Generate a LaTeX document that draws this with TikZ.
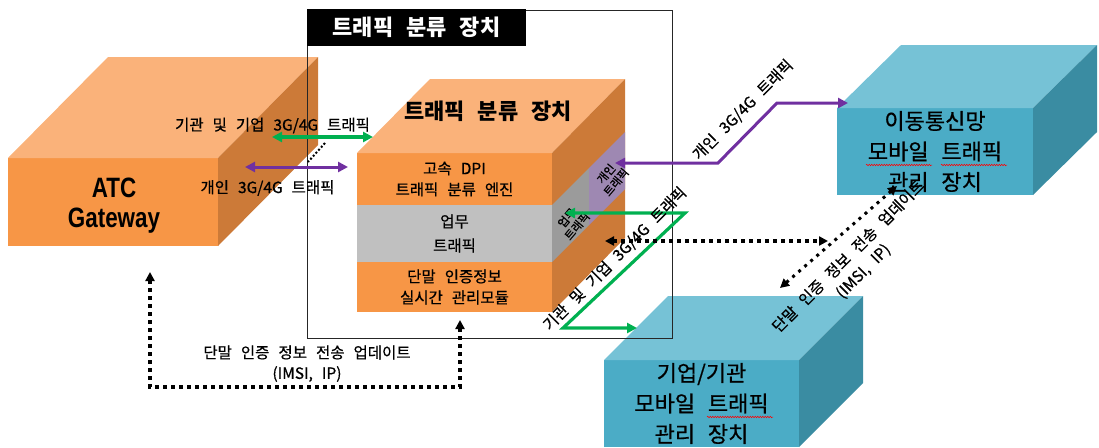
\documentclass[tikz,border=0pt]{standalone}
\usepackage{fontspec}
\newfontfamily\kr[WordSpace=2.6,FakeBold=0.6]{Noto Sans CJK KR}
\newfontfamily\krb[WordSpace=2.6]{Noto Sans CJK KR}
\newfontfamily\lsans{Liberation Sans}
\usetikzlibrary{arrows.meta,decorations.pathmorphing}
\definecolor{orFront}{RGB}{247,150,70}
\definecolor{orTop}{RGB}{250,178,122}
\definecolor{orSide}{RGB}{204,122,56}
\definecolor{grFront}{RGB}{192,192,192}
\definecolor{grSide}{RGB}{155,155,155}
\definecolor{puSide}{RGB}{158,136,178}
\definecolor{blFront}{RGB}{75,172,198}
\definecolor{blTop}{RGB}{118,194,214}
\definecolor{blSide}{RGB}{58,140,162}
\definecolor{purp}{RGB}{112,48,160}
\definecolor{grn}{RGB}{0,176,80}
\newcommand\fsz[2]{\fontsize{#1}{#2}\selectfont}
\tikzset{
  face/.style={inner sep=0pt, outer sep=0pt},
  lbl/.style={font=\kr\fsz{15.5}{21}, inner sep=0pt, align=center},
  frontlbl/.style={font=\kr\fsz{15.5}{21}, align=center},
  bluelbl/.style={font=\kr\fsz{22}{30.5}, align=center},
  sidelbl/.style={font=\kr\fsz{11.5}{13}, align=center, rotate=50, inner sep=0pt},
  atcfont/.style={font=\lsans\bfseries\fsz{28}{28}, anchor=base, inner sep=0pt},
  garrow/.style={draw=grn, line width=3.2pt, {Triangle[length=10pt,width=10pt]}-{Triangle[length=10pt,width=10pt]}},
  parrow/.style={draw=purp, line width=3pt, {Triangle[length=10pt,width=10pt]}-{Triangle[length=10pt,width=10pt]}},
  dotbig/.style={draw=black, line width=3.5pt, dash pattern=on 4pt off 4pt, {Triangle[length=9pt,width=9pt]}-{Triangle[length=9pt,width=9pt]}},
  dotsmall/.style={draw=black, line width=3pt, dash pattern=on 3pt off 5pt, {Triangle[length=9pt,width=9pt]}-{Triangle[length=9pt,width=9pt]}},
  dottiny/.style={draw=black, line width=2pt, dash pattern=on 2pt off 2pt},
  squig/.style={draw=red, line width=0.5pt, decorate, decoration={snake, amplitude=0.8pt, segment length=2.5pt}}
}
\begin{document}
\begin{tikzpicture}[x=1pt,y=-1pt]
\useasboundingbox (0,0) rectangle (1099,447);

% ATC Gateway box
\node[face, fill=orFront, minimum width=210pt, minimum height=88pt] (atc) at (113,202) {};
\fill[orTop] (atc.north west) -- (atc.north east) -- ++(100,-101) -- ++(-210,0) -- cycle;
\fill[orSide] (atc.north east) -- ++(100,-101) -- ++(0,88) -- (atc.south east) -- cycle;
\node[atcfont] (atcA) at (114,197) {\scalebox{0.8}[1]{ATC}};
\node[atcfont] (atcB) at (114,227) {\scalebox{0.8}[1]{Gateway}};

% classification device box
\node[face, fill=orFront, minimum width=195pt, minimum height=52pt, frontlbl] (dpi) at (454.5,179) {고속 DPI\\트래픽 분류 엔진};
\node[face, fill=grFront, minimum width=195pt, minimum height=57pt, frontlbl] (biz) at (454.5,233.5) {업무\\[3pt]트래픽};
\node[face, fill=orFront, minimum width=195pt, minimum height=50pt, frontlbl] (auth) at (454.5,287) {단말 인증정보\\실시간 관리모듈};
\fill[orTop] (dpi.north west) -- (dpi.north east) -- ++(73,-74) -- ++(-195,0) -- cycle;
\fill[orSide] (dpi.north east) -- ++(73,-74) -- ++(0,159) -- (auth.south east) -- cycle;
\fill[grSide] (biz.north east) -- ++(37,-37) -- ++(0,57) -- (biz.south east) -- cycle;
\fill[puSide] ([shift={(37,-37)}]biz.north east) -- ++(36,-36) -- ++(0,57) -- ++(-36,36) -- cycle;
\node[font=\krb\bfseries\fsz{22}{22}] (mtitle) at (488,111.5) {트래픽 분류 장치};
\node[sidelbl] (sp) at (611,178) {개인\\트래픽};
\node[sidelbl] (sb) at (572,222) {업무\\트래픽};

% mobile network box
\node[face, fill=blFront, minimum width=196pt, minimum height=87pt, bluelbl] (mob) at (935,151.5) {이동통신망\\모바일 트래픽\\관리 장치};
\fill[blTop] (mob.north west) -- (mob.north east) -- ++(64,-63) -- ++(-196,0) -- cycle;
\fill[blSide] (mob.north east) -- ++(64,-63) -- ++(0,87) -- (mob.south east) -- cycle;
\draw[squig] (866,165) -- (932,165);
\draw[squig] (941,165) -- (1007,165);

% enterprise box
\node[face, fill=blFront, minimum width=195pt, minimum height=87pt, bluelbl] (ent) at (701.5,403.5) {기업/기관\\모바일 트래픽\\관리 장치};
\fill[blTop] (ent.north west) -- (ent.north east) -- ++(64,-64) -- ++(-195,0) -- cycle;
\fill[blSide] (ent.north east) -- ++(64,-64) -- ++(0,87) -- (ent.south east) -- cycle;
\draw[squig] (707,417) -- (773,417);

% frame and title
\node[face, draw=black!85, line width=0.9pt, minimum width=365pt, minimum height=328pt] (frame) at (489.5,174) {};
\node[face, fill=black, text=white, minimum width=219pt, minimum height=37pt, font=\krb\bfseries\fsz{22}{22}] (title) at (416.5,27.5) {트래픽 분류 장치};

% connectors
\coordinate (gL) at (272,137); \coordinate (gR) at (373,137);
\draw[garrow] (gL) -- (gR);
\coordinate (pL) at (245,167); \coordinate (pR) at (348,167);
\draw[parrow] (pL) -- (pR);
\coordinate (p2a) at (615,163); \coordinate (p2b) at (718,163);
\coordinate (p2c) at (777,103); \coordinate (p2d) at (848,103);
\draw[parrow] (p2a) -- (p2b) -- (p2c) -- (p2d);
\coordinate (g2a) at (565,213); \coordinate (g2b) at (685,213);
\coordinate (g2c) at (563,328); \coordinate (g2d) at (637,328);
\draw[garrow] (g2a) -- (g2b) -- (g2c) -- (g2d);
\coordinate (dh1) at (605,241); \coordinate (dh2) at (828,241);
\draw[dotbig] (dh1) -- (dh2);
\coordinate (dd1) at (780,288); \coordinate (dd2) at (897,186);
\draw[dotsmall] (dd1) -- (dd2);
\coordinate (db1) at (150,272); \coordinate (db2) at (150,387);
\coordinate (db3) at (460,387); \coordinate (db4) at (460,320);
\draw[dotbig] (db1) -- (db2) -- (db3) -- (db4);
\coordinate (ds1) at (325,143); \coordinate (ds2) at (308,162);
\draw[dottiny] (ds1) -- (ds2);

% labels
\node[lbl] (lg) at (272.5,125.5) {기관 및 기업 3G/4G 트래픽};
\node[lbl] (lp) at (267.5,188) {개인 3G/4G 트래픽};
\node[lbl, rotate=45] (lp2) at (743,110) {개인 3G/4G 트래픽};
\node[lbl, rotate=45] (lg2) at (615,259) {기관 및 기업 3G/4G 트래픽};
\node[lbl, rotate=45] (ld) at (856,264) {단말 인증 정보 전송 업데이트\\(IMSI, IP)};
\node[lbl] (lb1) at (307,352.5) {단말 인증 정보 전송 업데이트};
\node[lbl] (lb2) at (307,374) {(IMSI, IP)};
\end{tikzpicture}
\end{document}
